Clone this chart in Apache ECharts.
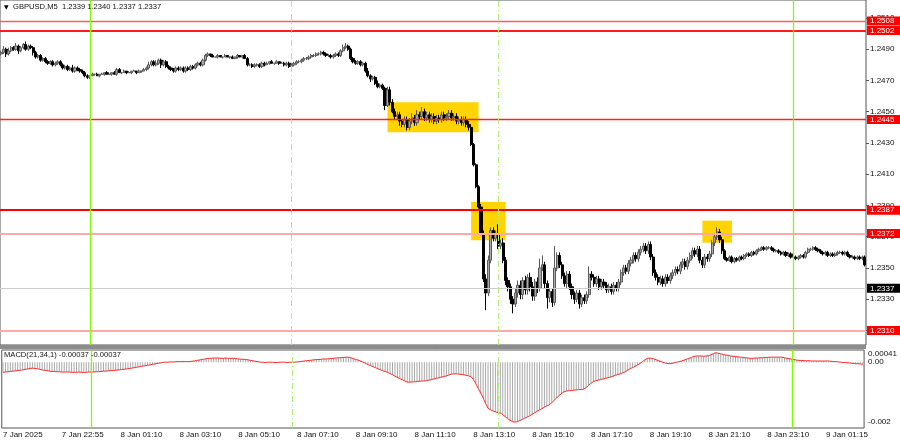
<!DOCTYPE html>
<html><head><meta charset="utf-8">
<script src="https://cdn.jsdelivr.net/npm/echarts@6/dist/echarts.min.js"></script>
<style>html,body{margin:0;padding:0;background:#fff}#c{width:900px;height:441px}</style>
</head><body><div id="c"></div>
<script>
// ---------- DATA (price values in pips above 1.2300) ----------
const BASE_PRICE = 1.2300;
const firstOpen = 187;
const closes = [
188,190,187,189,191,190,192,189,191,193,190,192,191,188,
185,186,183,184,182,181,
182,180,181,182,180,
178,179,177,178,176,178,177,
176,175,173,172,
173,174,174,173,174,174,175,174,174,175,174,
177,
175,175,176,175,175,176,176,175,176,176,177,
178,180,182,180,181,183,180,182,179,
178,177,176,178,177,178,176,178,
177,179,178,180,181,180,
183,186,187,
186,185,185,186,185,185,186,185,185,184,185,186,185,186,184,
180,
180,179,180,180,179,181,180,
181,182,181,181,182,181,181,
180,181,179,180,
181,182,182,183,184,184,
185,186,186,187,187,188,187,
186,186,185,186,187,186,
189,191,192,190,
184,
182,181,182,180,181,
176,173,171,172,
168,166,167,165,
154,164,156,150,
147,148,144,142,145,140,144,146,143,148,147,150,146,148,145,147,144,146,145,148,146,147,149,146,147,144,145,143,145,142,140,
129,116,102,89,72,43,34,55,74,69,72,64,66,55,42,38,30,27,34,
39,33,42,36,44,38,32,41,37,
50,52,
40,31,35,28,
50,58,52,
45,40,46,38,33,30,34,27,31,29,33,
46,
44,40,43,38,41,39,36,38,35,39,37,41,
47,50,48,53,55,58,56,60,62,64,61,65,
57,47,44,41,43,40,44,42,45,47,49,48,52,54,51,55,58,61,59,62,55,52,57,56,59,
66,70,73,68,61,
56,55,57,54,56,55,57,56,58,59,58,60,59,61,62,63,62,63,63,62,61,61,60,59,60,58,59,57,57,56,
57,58,57,60,62,62,63,62,61,60,59,60,58,59,58,59,60,60,59,60,58,57,57,56,57,56,57,52
];
const upperWick = [
1,2,1,2,1,1,2,1,1,1,2,1,1,1,
1,1,1,1,1,1,
1,1,1,1,1,
1,1,1,1,2,1,1,
1,1,1,1,
0,1,0,1,0,1,0,1,0,0,1,
1,
1,0,1,0,1,0,1,0,1,0,1,
1,2,1,1,2,1,1,1,1,
1,1,1,1,1,1,1,1,
1,1,1,1,1,1,
1,1,1,
0,1,0,1,0,0,1,0,0,1,0,1,0,0,1,
1,
1,1,1,1,1,1,1,
1,0,1,0,1,0,1,
1,1,1,1,
1,1,1,1,1,1,
1,1,1,1,1,1,1,
1,1,1,1,1,1,
1,2,2,1,
1,
1,1,1,1,1,
1,2,1,1,
1,2,1,1,
1,2,2,2,
2,2,2,1,2,2,2,3,2,3,2,3,2,2,2,2,2,2,2,2,2,2,2,2,2,2,2,2,2,2,2,
2,1,1,1,2,2,3,3,2,2,2,6,2,3,2,2,2,2,3,
3,3,2,3,2,3,3,2,3,
6,6,
2,2,2,2,
14,2,2,
2,2,2,2,2,2,2,2,2,2,2,
5,
2,2,2,2,2,2,2,2,2,2,2,2,
2,2,2,2,2,2,2,2,2,2,2,2,
2,2,2,2,2,2,2,2,2,2,2,2,2,2,2,2,2,2,2,2,2,2,2,2,2,
2,2,3,2,2,
1,1,1,1,1,1,1,1,1,1,1,1,1,1,1,1,1,1,1,1,1,1,1,1,1,1,1,1,1,1,
1,1,1,1,1,1,1,1,1,1,1,1,1,1,1,1,1,1,1,1,1,1,1,1,1,1,1,1
];
const lowerWick = [
1,1,2,1,1,1,1,2,1,1,1,1,1,2,
1,1,1,1,1,1,
1,1,1,1,1,
1,1,1,1,1,1,1,
1,1,1,1,
1,0,1,0,1,0,1,0,0,1,0,
1,
0,1,0,1,0,1,0,1,0,1,0,
1,1,1,1,1,1,2,1,1,
1,1,1,1,1,1,1,1,
1,1,1,1,1,1,
1,1,1,
1,0,0,1,0,1,0,0,1,0,0,1,0,1,0,
1,
1,1,1,1,1,1,1,
0,1,0,1,0,1,0,
1,1,1,1,
1,1,1,1,1,1,
1,1,1,1,1,1,1,
1,1,1,1,1,1,
1,1,1,1,
1,
1,1,1,1,1,
1,1,2,1,
1,1,1,1,
3,1,2,1,
2,2,3,2,2,2,2,2,2,2,2,2,2,2,2,2,2,2,2,2,2,2,2,2,2,2,2,2,2,2,2,
1,1,1,1,1,2,11,2,2,2,2,2,2,2,3,3,3,6,2,
3,3,3,3,3,3,3,3,3,
2,2,
3,7,3,3,
2,2,2,
2,2,3,2,3,3,2,3,2,2,2,
2,
2,2,2,2,2,2,2,2,2,2,2,2,
2,2,2,2,2,2,2,2,2,2,2,2,
2,2,2,2,2,2,2,2,2,2,2,2,2,2,2,2,2,2,2,2,2,2,2,2,2,
2,2,2,2,2,
1,1,1,1,1,1,1,1,1,1,1,1,1,1,1,1,1,1,1,1,1,1,1,1,1,1,1,1,1,1,
1,1,1,1,1,1,1,1,1,1,1,1,1,1,1,1,1,1,1,1,1,1,1,1,1,1,1,1
];
// MACD(21,34,1) main value per bar, in units of 0.00001
const macd = [
-34,-33,-32,-31,-30,-29,-28,-27,-26,-24,-23,-21,-20,
-21,-22,-24,-26,-27,-28,-30,-31,
-31,-32,-32,-33,-33,-33,-33,
-34,-34,-34,-33,-34,-34,-34,-33,-33,
-33,-32,-32,-31,
-30,-30,-29,-28,-28,-27,-26,
-25,-24,-23,-22,-21,-19,-18,-16,-15,
-13,-12,-10,-9,-7,-6,-4,-3,-1,
0,0,1,1,1,2,2,2,2,2,2,
3,4,6,7,9,10,12,13,
13,14,14,14,13,13,14,13,13,13,
12,11,10,10,9,8,
6,5,3,2,0,
0,-1,0,0,0,-1,-1,0,0,0,-1,0,0,0,
1,2,3,4,5,6,7,8,
9,9,10,11,11,12,12,13,
14,15,15,16,17,17,
15,12,9,7,4,
0,-4,-8,-11,-15,
-18,-22,-25,-28,-31,-34,
-38,-42,-47,-51,-55,-59,-63,-67,
-67,-66,-66,-65,-64,-63,-63,-62,
-60,-58,-56,-54,-52,-50,-48,-46,
-43,-40,-39,-39,-40,-41,-42,-44,-46,-48,
-58,-72,-88,-104,-120,-138,-155,
-160,-164,-167,-169,-171,
-176,-183,-189,-195,-200,
-201,-200,-196,-192,
-188,-184,-180,-175,-170,-165,-160,
-156,-151,-147,-143,
-136,-128,-120,-112,-105,-99,
-97,-96,-95,-94,-93,-92,-92,-91,
-85,-78,-71,-65,
-62,-60,-58,-56,-54,-52,-50,
-47,-44,-41,-39,-36,
-32,-27,-22,-18,-14,-10,
-4,2,8,13,
14,13,
10,7,4,1,-2,-4,-5,
-4,-2,0,2,4,
7,10,13,16,19,21,
21,21,20,21,22,
25,29,32,
30,28,26,24,23,21,20,
19,18,17,16,15,14,13,
13,14,14,15,15,16,16,17,
17,17,17,17,17,
15,13,12,10,9,7,
6,6,5,5,5,4,4,4,
4,4,4,4,4,
3,2,2,1,0,-1,-1,-2,
-3,-4,-5,-5,-6,-7
];
const timeLabels = ['7 Jan 2025','7 Jan 22:55','8 Jan 01:10','8 Jan 03:10','8 Jan 05:10','8 Jan 07:10','8 Jan 09:10','8 Jan 11:10','8 Jan 13:10','8 Jan 15:10','8 Jan 17:10','8 Jan 19:10','8 Jan 21:10','8 Jan 23:10','9 Jan 01:15'];
const BARS_PER_LABEL = 24;
const priceTicks = [1.2310,1.2330,1.2350,1.2370,1.2390,1.2410,1.2430,1.2450,1.2470,1.2490,1.2510];
const levelPrices = [1.2508,1.2502,1.2445,1.2387,1.2372,1.2337,1.2310];
const macdTicks = [0.00041, 0, -0.002];
const macdTickLabels = ['0.00041','0.00','-0.002'];
const solidVLines = [36, 322];
const dashVLines = [118, 202];
// highlighted zones: [fromBar, toBar, highPrice, lowPrice]
const zones = [[157,194,1.24560,1.24368],[191,205,1.23922,1.23677],[285,297,1.23803,1.23662]];
const titleText = 'GBPUSD,M5  1.2339 1.2340 1.2337 1.2337';
const macdTitle = 'MACD(21,34,1) -0.00037 -0.00037';

if (closes.length !== macd.length || upperWick.length !== closes.length || lowerWick.length !== closes.length)
  console.error('length mismatch', closes.length, upperWick.length, lowerWick.length, macd.length);

// ---------- BUILD ----------
const toPrice = p => +(BASE_PRICE + p / 10000).toFixed(5);
const cats = closes.map((_, i) => String(i));
const candles = closes.map((c, i) => {
  const o = i === 0 ? firstOpen : closes[i - 1];
  return [toPrice(o), toPrice(c), toPrice(Math.min(o, c) - lowerWick[i]), toPrice(Math.max(o, c) + upperWick[i])];
});
const macdVals = macd.map(v => v / 100000);

const FONT = 'Liberation Sans';
const levelStyle = [
  {c:'#ff5a5a', w:1.4, bg:'#ff0000'},
  {c:'#ff1a1a', w:2, bg:'#ff0000'},
  {c:'#ff2020', w:1.4, bg:'#ff0000'},
  {c:'#ff0000', w:2, bg:'#ff0000'},
  {c:'#ffa8a8', w:2, bg:'#ff0000'},
  {c:'#cccccc', w:1, bg:'#000000'},
  {c:'#ffa8a8', w:2, bg:'#ff0000'}
];
const vLineData = () => solidVLines.map(x => ({xAxis: x, lineStyle:{color:'#7fff00', width:1.3, type:'solid'}}))
  .concat(dashVLines.map(x => ({xAxis: x, lineStyle:{color:'#b2f07a', width:1, type:[6,3,1,3]}})));

const chart = echarts.init(document.getElementById('c'));
chart.setOption({
  animation: false,
  backgroundColor: '#ffffff',
  textStyle: {fontFamily: FONT},
  grid: [
    {left: 0, top: 0, width: 866, height: 345, show: true, borderColor: '#555', borderWidth: 1, backgroundColor:'#fff'},
    {left: 0, top: 350, width: 866, height: 78, show: true, borderColor: '#555', borderWidth: 1, backgroundColor:'#fff'}
  ],
  xAxis: [
    {type:'category', gridIndex:0, data: cats, boundaryGap:true, axisLine:{show:false}, axisTick:{show:false}, axisLabel:{show:false}, splitLine:{show:false}},
    {type:'category', gridIndex:1, data: cats, boundaryGap:true, axisLine:{show:false}, axisTick:{show:false}, splitLine:{show:false},
     axisLabel:{interval: (idx) => idx % BARS_PER_LABEL === 0, formatter: (v) => timeLabels[parseInt(v,10) / BARS_PER_LABEL] || '',
       align:'left', fontSize: 8, color:'#111', margin: 3, fontFamily: FONT}}
  ],
  yAxis: [
    {type:'value', gridIndex:0, position:'right', min: 1.230072, max: 1.25215, scale:true,
     splitLine:{show:false}, axisLine:{show:false},
     axisTick:{show:true, length:3, lineStyle:{color:'#555'}, customValues: priceTicks},
     axisLabel:{customValues: priceTicks, formatter: v => v.toFixed(4), fontSize: 8, color:'#111', margin: 4, fontFamily: FONT}},
    {type:'value', gridIndex:1, position:'right', min: -0.00221, max: 0.00041,
     splitLine:{show:false}, axisLine:{show:false},
     axisTick:{show:false},
     axisLabel:{customValues: macdTicks, fontSize: 8, color:'#111', margin: 4, fontFamily: FONT,
       formatter: v => { let k = 0; macdTicks.forEach((t, j) => { if (Math.abs(t - v) < Math.abs(macdTicks[k] - v)) k = j; });
         return k === 0 ? '{t|' + macdTickLabels[k] + '}' : macdTickLabels[k]; },
       rich: {t: {padding:[7,0,0,0], fontSize: 8, color:'#111', fontFamily: FONT}}}}
  ],
  graphic: [
    {type:'rect', shape:{x:0, y:345, width:866, height:4}, style:{fill:'#8c8c8c'}, z:100},
    {type:'text', x:4, y:7, style:{text:'▼', fontSize:6, fill:'#000', verticalAlign:'middle', fontFamily:'DejaVu Sans'}, z:100},
    {type:'text', x:13, y:7, style:{text: titleText, fontSize:7.6, fill:'#111', verticalAlign:'middle', fontFamily: FONT}, z:100},
    {type:'text', x:4, y:355, style:{text: macdTitle, fontSize:7.6, fill:'#111', verticalAlign:'middle', fontFamily: FONT}, z:100}
  ],
  series: [
    {type:'candlestick', xAxisIndex:0, yAxisIndex:0, data: candles, barWidth: 2.6,
     itemStyle:{color:'#a8a8a8', color0:'#000000', borderColor:'#5a5a5a', borderColor0:'#000000', borderWidth: 1},
     markArea:{silent:true, itemStyle:{color:'#ffd400', opacity:1},
       data: zones.map(z => [{xAxis: z[0], yAxis: z[2]}, {xAxis: z[1], yAxis: z[3]}])},
     markLine:{silent:true, symbol:['none','none'], animation:false, precision: 6,
       data: levelPrices.map((p, k) => ({yAxis: p,
         lineStyle:{color: levelStyle[k].c, width: levelStyle[k].w, type:'solid', opacity: 1},
         label:{show:true, position:'end', distance: 1, formatter: p.toFixed(4), color:'#fff', backgroundColor: levelStyle[k].bg,
           fontSize: 8, fontFamily: FONT, padding:[1,6,0,3], width: 26}}))
         .concat(vLineData().map(d => Object.assign(d, {label:{show:false}})))}
    },
    {type:'bar', xAxisIndex:1, yAxisIndex:1, data: macdVals, barWidth: 1, itemStyle:{color:'#a8a8a8'},
     markLine:{silent:true, symbol:['none','none'], animation:false, label:{show:false}, data: vLineData()}},
    {type:'line', xAxisIndex:1, yAxisIndex:1, data: macdVals, showSymbol:false, symbol:'none', lineStyle:{color:'#ff2a2a', width:1}}
  ]
});
</script></body></html>
